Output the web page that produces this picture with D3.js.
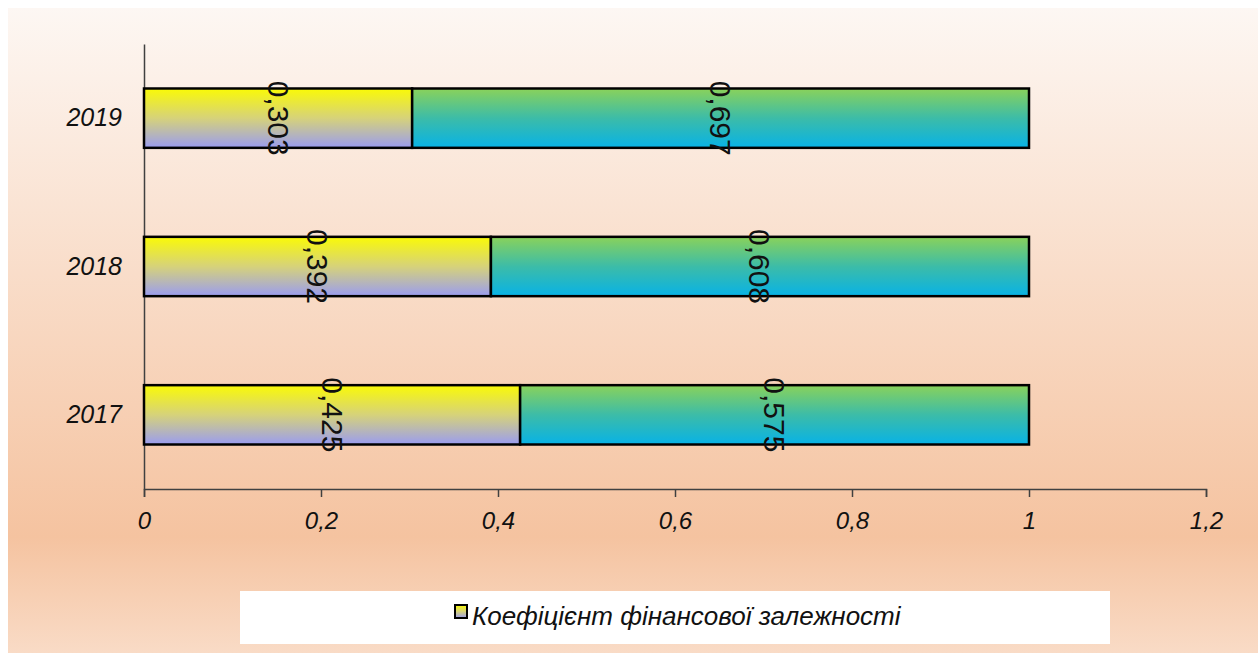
<!DOCTYPE html>
<html>
<head>
<meta charset="utf-8">
<script src="https://cdn.jsdelivr.net/npm/d3@7"></script>
<style>
  html, body { margin: 0; padding: 0; background: #ffffff; }
  svg { display: block; }
  text { font-family: "Liberation Sans", Arial, sans-serif; }
</style>
</head>
<body>
<svg id="chart" width="1258" height="653"></svg>
<script>
// Years shown on the vertical axis (top to bottom)
const years = ["2019", "2018", "2017"];
// Коефіцієнт фінансової залежності (first segment)
const dependence = [0.303, 0.392, 0.425];
// Remaining share (second segment)
const remainder = [0.697, 0.608, 0.575];
// Axis tick values and their labels
const tickValues = [0, 0.2, 0.4, 0.6, 0.8, 1, 1.2];
const tickLabels = ["0", "0,2", "0,4", "0,6", "0,8", "1", "1,2"];
const legendLabel = "Коефіцієнт фінансової залежності";

const svg = d3.select("#chart");
const defs = svg.append("defs");

function vGrad(id, stops) {
  const g = defs.append("linearGradient").attr("id", id)
    .attr("x1", 0).attr("y1", 0).attr("x2", 0).attr("y2", 1);
  stops.forEach(([o, c]) => g.append("stop").attr("offset", o).attr("stop-color", c));
}
vGrad("bgGrad", [[0, "#fdf7f3"], [0.82, "#f5c3a0"], [1, "#f9dbc6"]]);
vGrad("yellowGrad", [[0, "#fafa06"], [0.5, "#d6d27a"], [1, "#9a9cf0"]]);
vGrad("greenGrad", [[0, "#8ad25a"], [0.5, "#3cbca8"], [1, "#08b2e6"]]);

// Panel background
svg.append("rect").attr("x", 8).attr("y", 8).attr("width", 1250).attr("height", 645)
  .attr("fill", "url(#bgGrad)");

const margin = { left: 144, top: 44, bottom: 489 };
const x = d3.scaleLinear().domain([0, 1.2]).range([144, 1206]);
const y = d3.scaleBand().domain(years).range([margin.top, margin.bottom]).paddingInner(0.6).paddingOuter(0.3);

const rows = years.map((yr, i) => ({ year: yr, a: dependence[i], b: remainder[i] }));

// Axes
const xAxis = d3.axisBottom(x).tickValues(tickValues)
  .tickFormat((d, i) => tickLabels[i]).tickSize(8).tickSizeOuter(8);
const gx = svg.append("g").attr("transform", `translate(0,${margin.bottom})`).call(xAxis);
gx.select(".domain").attr("stroke", "#404040").attr("stroke-width", 1.5);
gx.selectAll(".tick line").attr("stroke", "#404040").attr("stroke-width", 1.5);
gx.selectAll(".tick text").attr("font-size", 24).attr("font-style", "italic")
  .attr("fill", "#111").attr("dy", "1.2em");

const yAxis = d3.axisLeft(y).tickSize(0).tickPadding(22);
const gy = svg.append("g").attr("transform", `translate(${margin.left},0)`).call(yAxis);
gy.select(".domain").attr("stroke", "#404040").attr("stroke-width", 1.5);
gy.selectAll(".tick text").attr("font-size", 25).attr("font-style", "italic").attr("fill", "#111");

// Stacked bars
const g = svg.append("g");
rows.forEach(r => {
  g.append("rect").attr("x", x(0)).attr("y", y(r.year))
    .attr("width", x(r.a) - x(0)).attr("height", y.bandwidth())
    .attr("fill", "url(#yellowGrad)").attr("stroke", "#000").attr("stroke-width", 2.5);
  g.append("rect").attr("x", x(r.a)).attr("y", y(r.year))
    .attr("width", x(r.a + r.b) - x(r.a)).attr("height", y.bandwidth())
    .attr("fill", "url(#greenGrad)").attr("stroke", "#000").attr("stroke-width", 2.5);
});

// Rotated value labels
const fmt = v => d3.format(".3f")(v).replace(".", ",");
rows.forEach(r => {
  const cy = y(r.year) + y.bandwidth() / 2;
  [[0, r.a], [r.a, r.a + r.b]].forEach(([s, e]) => {
    const cx = (x(s) + x(e)) / 2;
    svg.append("text")
      .attr("transform", `translate(${cx},${cy}) rotate(90)`)
      .attr("text-anchor", "middle").attr("dominant-baseline", "central")
      .attr("font-size", 30).attr("fill", "#111")
      .text(fmt(e - s));
  });
});

// Legend
svg.append("rect").attr("x", 240).attr("y", 591).attr("width", 870).attr("height", 53)
  .attr("fill", "#ffffff");
svg.append("rect").attr("x", 455).attr("y", 605).attr("width", 12).attr("height", 13)
  .attr("fill", "url(#yellowGrad)").attr("stroke", "#000").attr("stroke-width", 2);
svg.append("text").attr("x", 472).attr("y", 618).attr("dominant-baseline", "middle")
  .attr("font-size", 26).attr("font-style", "italic").attr("fill", "#111")
  .text(legendLabel);
</script>
</body>
</html>
